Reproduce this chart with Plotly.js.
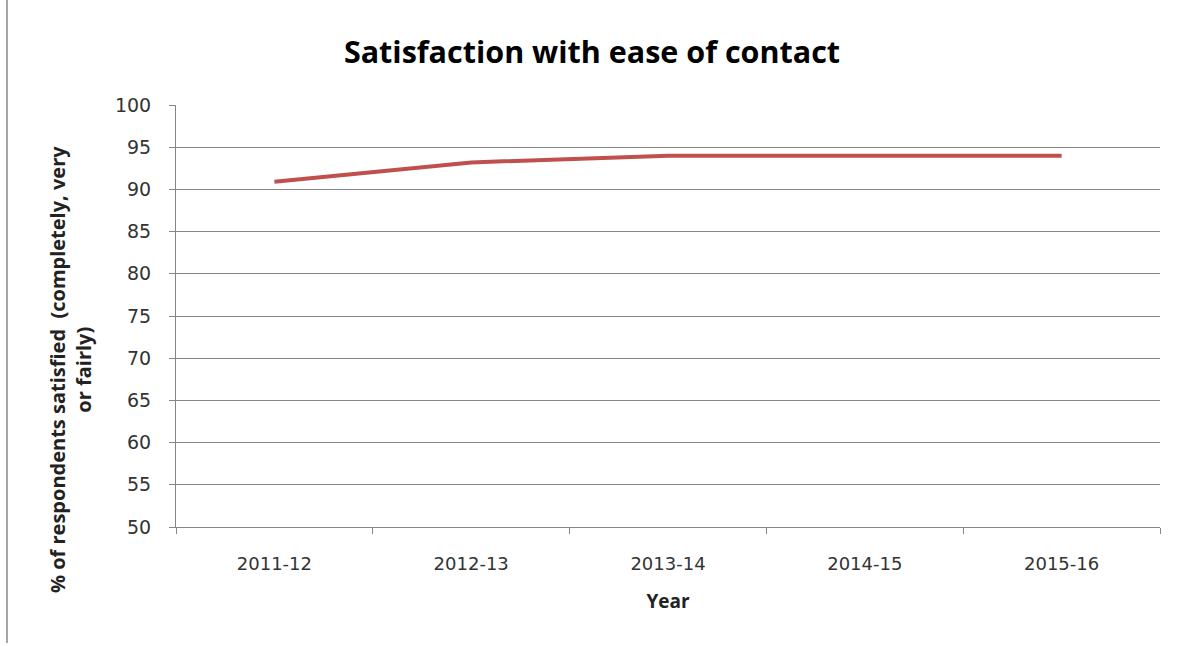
<!DOCTYPE html>
<html>
<head>
<meta charset="utf-8">
<script src="https://cdn.plot.ly/plotly-3.0.1.min.js"></script>
<style>html,body{margin:0;padding:0;background:#fff;}#chart{width:1184px;height:646px;}</style>
</head>
<body>
<div id="chart"></div>
<script>
const years = ["2011-12", "2012-13", "2013-14", "2014-15", "2015-16"];
const satisfied = [90.9, 93.2, 94.0, 94.0, 94.0];
const yTicks = [50, 55, 60, 65, 70, 75, 80, 85, 90, 95, 100];

const L = 176, R = 24, T = 105, B = 119, W = 1184, H = 646;
const pw = W - L - R, ph = H - T - B;
const px = v => (v - L) / pw;
const py = v => (H - B - v) / ph;

const trace = {
  x: years, y: satisfied, type: 'scatter', mode: 'lines',
  line: {color: '#C0504D', width: 4},
  hoverinfo: 'skip'
};

const layout = {
  width: W, height: H,
  margin: {l: L, r: R, t: T, b: B},
  paper_bgcolor: '#fff', plot_bgcolor: '#fff',
  font: {family: 'DejaVu Sans, sans-serif', color: '#333'},
  showlegend: false,
  title: {text: '<b>Satisfaction with ease of contact</b>',
          font: {family: 'Open Sans, sans-serif', size: 30.5, color: '#000'},
          x: 0.5, xanchor: 'center', y: 1 - 52/H, yanchor: 'middle'},
  xaxis: {
    type: 'category', range: [-0.5, 4.5], tickson: 'boundaries', ticks: 'outside', ticklen: 6, tickcolor: '#868686',
    showline: true, linecolor: '#868686', linewidth: 1, showgrid: false, zeroline: false,
    tickfont: {size: 18, color: '#333'}, ticklabelstandoff: 20,
    title: {text: '<b>Year</b>', font: {family: 'Open Sans, sans-serif', size: 19, color: '#222'}, standoff: 22},
    fixedrange: true
  },
  yaxis: {
    range: [50, 100], tickvals: yTicks, ticks: 'outside', ticklen: 6, tickcolor: '#868686',
    showline: true, linecolor: '#868686', linewidth: 1,
    showgrid: true, gridcolor: '#868686', gridwidth: 1, zeroline: false,
    tickfont: {size: 19, color: '#333'}, ticklabelstandoff: 14,
    fixedrange: true
  },
  annotations: [{
    text: '<b>% of respondents satisfied  (completely, very<br>or fairly)</b>',
    xref: 'paper', yref: 'paper', x: px(70), y: py(370),
    xanchor: 'center', yanchor: 'middle', textangle: -90, showarrow: false,
    font: {family: 'Open Sans, sans-serif', size: 20, color: '#222'}, align: 'center'
  }],
  shapes: [{
    type: 'line', xref: 'paper', yref: 'paper',
    x0: px(7), x1: px(7), y0: py(0), y1: py(643),
    line: {color: '#A6A6A6', width: 2}
  }]
};

Plotly.newPlot('chart', [trace], layout, {displayModeBar: false, staticPlot: true});
</script>
</body>
</html>
